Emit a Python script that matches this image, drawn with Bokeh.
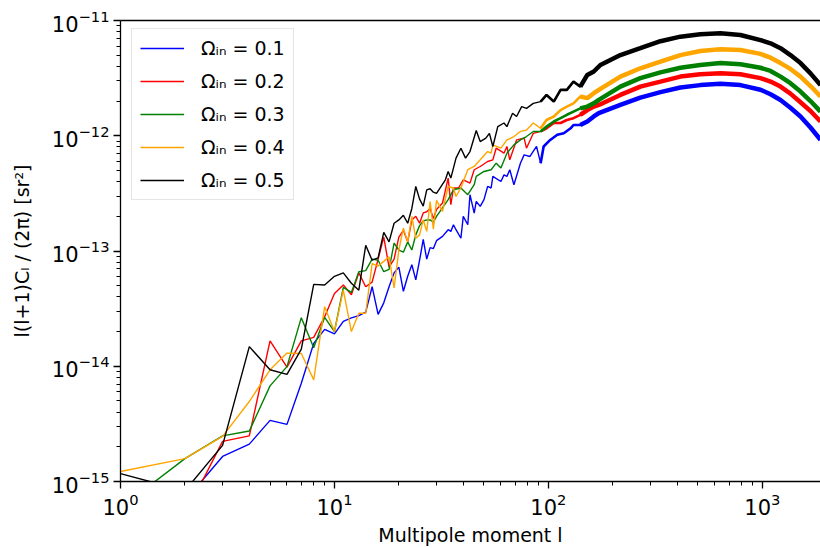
from bokeh.plotting import figure
from bokeh.models import LogAxis, FixedTicker, Legend, LegendItem, Range1d
from bokeh.embed import file_html
from bokeh.resources import INLINE

# ---------------- data ----------------
ell_low = [1, 2, 3, 4, 5, 6, 7, 8, 9, 10, 11, 12, 13, 14, 15, 16, 17, 18, 19, 20,
           21, 22, 23, 24, 25, 26, 27, 28, 29, 30]
ell_high = [217, 269, 334, 414, 513, 637, 790, 980, 1092, 1216, 1353, 1508, 1679, 1870]

# Omega_in = 0.1 (blue)
cl_01_low = [4.0e-16, 6.8e-16, 1.65e-15, 2.11e-15, 3.39e-15, 3.13e-15, 7.13e-15, 1.58e-14, 2.09e-14, 1.91e-14,
             2.45e-14, 2.63e-14, 2.75e-14, 2.95e-14, 4.90e-14, 2.82e-14, 3.55e-14, 4.90e-14, 6.46e-14, 7.24e-14,
             4.47e-14, 6.03e-14, 7.59e-14, 5.62e-14, 8.32e-14, 1.26e-13, 8.51e-14, 1.07e-13, 1.05e-13, 1.23e-13]
ell_01_mid = [32, 34, 35, 36, 37, 39, 40, 42, 43, 45, 46, 48, 50, 52, 54, 55, 60, 62, 64, 66,
              69, 74, 77, 82, 88, 92, 95, 102, 110, 118, 127, 131, 141, 152, 163, 172]
cl_01_mid = [1.34e-13, 1.53e-13, 1.48e-13, 1.69e-13, 1.53e-13, 1.29e-13, 2.00e-13, 1.69e-13, 3.08e-13, 2.13e-13,
             2.69e-13, 2.44e-13, 2.79e-13, 3.63e-13, 3.52e-13, 4.44e-13, 4.01e-13, 4.58e-13, 4.44e-13, 5.07e-13,
             3.76e-13, 5.78e-13, 6.82e-13, 6.61e-13, 8.07e-13, 5.78e-13, 8.07e-13, 9.20e-13, 1.02e-12, 1.05e-12,
             1.16e-12, 1.24e-12, 1.24e-12, 1.33e-12, 1.47e-12, 1.57e-12]
cl_01_high = [1.85e-12, 2.14e-12, 2.39e-12, 2.62e-12, 2.75e-12, 2.82e-12, 2.75e-12, 2.51e-12, 2.29e-12, 2.04e-12,
              1.75e-12, 1.47e-12, 1.18e-12, 9.23e-13]

# Omega_in = 0.2 (red)
cl_02_low = [7.0e-16, 5.1e-16, 2.23e-15, 2.49e-15, 1.66e-14, 9.82e-15, 1.66e-14, 1.78e-14, 2.69e-14, 4.27e-14,
             5.07e-14, 4.17e-14, 6.46e-14, 4.90e-14, 5.37e-14, 8.51e-14, 1.32e-13, 7.24e-14, 8.51e-14, 1.32e-13,
             1.51e-13, 1.20e-13, 1.86e-13, 2.00e-13, 1.74e-13, 2.14e-13, 2.19e-13, 2.34e-13, 1.91e-13, 2.29e-13]
ell_02_mid = [32, 34, 35, 36, 38, 40, 43, 45, 48, 52, 55, 57, 62, 64, 66, 71, 77, 79, 85, 92,
              98, 106, 114, 122, 131, 141, 152, 163, 172]
cl_02_mid = [2.61e-13, 4.29e-13, 2.52e-13, 3.52e-13, 3.52e-13, 4.15e-13, 3.88e-13, 5.07e-13, 5.41e-13, 5.98e-13,
             6.18e-13, 7.80e-13, 7.06e-13, 8.07e-13, 6.18e-13, 9.20e-13, 9.53e-13, 7.80e-13, 1.05e-12, 1.09e-12,
             1.16e-12, 1.29e-12, 1.29e-12, 1.37e-12, 1.42e-12, 1.52e-12, 1.67e-12, 1.79e-12, 1.85e-12]
cl_02_high = [2.26e-12, 2.67e-12, 2.95e-12, 3.26e-12, 3.42e-12, 3.49e-12, 3.42e-12, 3.16e-12, 2.95e-12, 2.67e-12,
              2.32e-12, 1.95e-12, 1.64e-12, 1.33e-12]

# Omega_in = 0.3 (green)
cl_03_low = [5.9e-16, 1.58e-15, 2.49e-15, 2.74e-15, 6.76e-15, 9.93e-15, 2.64e-14, 1.45e-14, 2.66e-14, 2.00e-14,
             4.84e-14, 4.37e-14, 6.61e-14, 6.76e-14, 8.51e-14, 8.32e-14, 6.61e-14, 6.92e-14, 1.17e-13, 1.02e-13,
             9.77e-14, 1.20e-13, 1.02e-13, 1.38e-13, 1.66e-13, 1.82e-13, 1.86e-13, 1.86e-13, 1.78e-13, 2.00e-13]
ell_03_mid = [34, 36, 39, 42, 45, 46, 50, 54, 57, 60, 64, 69, 74, 79, 85, 92, 98, 106, 114, 122,
              131, 141, 152, 163, 172]
cl_03_mid = [2.79e-13, 3.40e-13, 3.52e-13, 3.08e-13, 3.76e-13, 4.44e-13, 4.90e-13, 5.07e-13, 5.78e-13, 5.24e-13,
             7.06e-13, 8.34e-13, 9.20e-13, 9.84e-13, 1.09e-12, 1.09e-12, 1.20e-12, 1.33e-12, 1.42e-12, 1.52e-12,
             1.62e-12, 1.73e-12, 1.79e-12, 1.91e-12, 2.05e-12]
cl_03_high = [2.67e-12, 3.16e-12, 3.55e-12, 3.89e-12, 4.11e-12, 4.27e-12, 4.17e-12, 3.89e-12, 3.65e-12, 3.26e-12,
              2.86e-12, 2.42e-12, 2.00e-12, 1.62e-12]

# Omega_in = 0.4 (orange)
cl_04_low = [1.22e-15, 1.58e-15, 2.46e-15, 4.94e-15, 9.31e-15, 1.30e-14, 1.29e-14, 7.62e-15, 3.29e-14, 2.00e-14,
             4.57e-14, 2.00e-14, 2.88e-14, 2.88e-14, 7.76e-14, 7.41e-14, 8.13e-14, 8.91e-14, 4.79e-14, 1.02e-13,
             1.58e-13, 1.20e-13, 2.00e-13, 1.29e-13, 1.38e-13, 1.86e-13, 1.48e-13, 2.69e-13, 1.55e-13, 2.75e-13]
ell_04_mid = [32, 34, 36, 37, 39, 42, 45, 48, 52, 54, 55, 60, 64, 69, 74, 79, 85, 92, 98, 106,
              114, 122, 131, 141, 152, 163, 172]
cl_04_mid = [2.21e-13, 3.63e-13, 3.52e-13, 2.97e-13, 3.52e-13, 5.07e-13, 5.41e-13, 6.18e-13, 7.29e-13, 7.06e-13,
             8.34e-13, 7.80e-13, 9.20e-13, 9.84e-13, 1.09e-12, 1.12e-12, 1.29e-12, 1.16e-12, 1.37e-12, 1.47e-12,
             1.67e-12, 1.79e-12, 1.91e-12, 2.19e-12, 2.12e-12, 2.34e-12, 2.50e-12]
cl_04_high = [3.26e-12, 3.85e-12, 4.40e-12, 5.01e-12, 5.44e-12, 5.62e-12, 5.55e-12, 5.13e-12, 4.76e-12, 4.27e-12,
              3.80e-12, 3.26e-12, 2.70e-12, 2.19e-12]

# Omega_in = 0.5 (black)
cl_05_low = [1.17e-15, 8.3e-16, 2.06e-15, 1.48e-14, 9.33e-15, 8.51e-15, 1.41e-14, 5.13e-14, 5.07e-14, 6.03e-14,
             6.46e-14, 5.25e-14, 4.57e-14, 1.12e-13, 8.32e-14, 8.71e-14, 1.45e-13, 1.20e-13, 1.74e-13, 1.86e-13,
             2.04e-13, 1.74e-13, 2.34e-13, 3.63e-13, 2.82e-13, 2.45e-13, 3.39e-13, 3.47e-13, 3.24e-13, 3.16e-13]
ell_05_mid = [33, 34, 35, 37, 39, 41, 43, 46, 48, 51, 53, 55, 58, 62, 64, 68, 71, 75, 79, 85,
              92, 98, 106, 114, 122, 131, 141, 152, 163, 175]
cl_05_mid = [4.15e-13, 4.90e-13, 4.29e-13, 6.40e-13, 7.80e-13, 6.40e-13, 7.29e-13, 1.11e-12, 8.91e-13, 9.53e-13,
             1.05e-12, 8.07e-13, 1.20e-12, 1.29e-12, 1.20e-12, 1.57e-12, 1.47e-12, 1.79e-12, 1.73e-12, 1.91e-12,
             1.98e-12, 2.26e-12, 1.98e-12, 2.50e-12, 2.50e-12, 2.95e-12, 2.67e-12, 3.37e-12, 3.61e-12, 4.11e-12]
cl_05_high = [5.01e-12, 5.75e-12, 6.61e-12, 7.24e-12, 7.59e-12, 7.76e-12, 7.48e-12, 6.76e-12, 6.34e-12, 5.75e-12,
              5.01e-12, 4.27e-12, 3.48e-12, 2.75e-12]

labels = ["Ωᵢₙ = 0.1", "Ωᵢₙ = 0.2", "Ωᵢₙ = 0.3", "Ωᵢₙ = 0.4", "Ωᵢₙ = 0.5"]
colors = ["#0000ff", "#ff0000", "#008000", "#ffa500", "#000000"]

x_major = [1, 10, 100, 1000]
y_major = [1e-15, 1e-14, 1e-13, 1e-12, 1e-11]

series = [
    (ell_01_mid, cl_01_low, cl_01_mid, cl_01_high),
    (ell_02_mid, cl_02_low, cl_02_mid, cl_02_high),
    (ell_03_mid, cl_03_low, cl_03_mid, cl_03_high),
    (ell_04_mid, cl_04_low, cl_04_mid, cl_04_high),
    (ell_05_mid, cl_05_low, cl_05_mid, cl_05_high),
]

FONT = "DejaVu Sans"

p = figure(width=820, height=548, x_axis_type="log", y_axis_type="log",
           x_range=Range1d(1, 1870), y_range=Range1d(1e-15, 1e-11),
           output_backend="svg", toolbar_location=None,
           min_border_left=120, min_border_right=0, min_border_top=20, min_border_bottom=66)
p.outline_line_color = None
p.grid.visible = False
p.background_fill_color = "white"
p.border_fill_color = "white"

x_minor = [m * d for d in x_major for m in range(2, 10)]
y_minor = [m * d for d in y_major for m in range(2, 10)]
p.xaxis[0].ticker = FixedTicker(ticks=x_major, minor_ticks=x_minor)
p.yaxis[0].ticker = FixedTicker(ticks=y_major, minor_ticks=y_minor)
p.xaxis.axis_label = "Multipole moment l"
p.yaxis.axis_label = "l(l+1)Cₗ / (2π) [sr²]"

for ax in (p.xaxis[0], p.yaxis[0]):
    ax.axis_line_width = 1.3
    ax.major_tick_line_width = 1.3
    ax.minor_tick_line_width = 1.0
    ax.major_tick_out = 7
    ax.major_tick_in = 0
    ax.minor_tick_out = 4
    ax.minor_tick_in = 0
    ax.major_label_text_font = FONT
    ax.major_label_text_font_size = "21px"
    ax.major_label_text_color = "black"
    ax.axis_label_text_font = FONT
    ax.axis_label_text_font_size = "19px"
    ax.axis_label_text_font_style = "normal"
    ax.axis_label_text_color = "black"
    ax.major_label_standoff = 4
p.xaxis[0].axis_label_standoff = 6
p.yaxis[0].axis_label_standoff = 16

top = LogAxis(ticker=FixedTicker(ticks=[]), major_label_text_font_size="0px",
              major_tick_line_color=None, minor_tick_line_color=None, axis_line_width=1.3)
p.add_layout(top, "above")

items = []
for (ell_mid, lo, mid, hi), lab, col in zip(series, labels, colors):
    ell = ell_low + ell_mid + ell_high
    cl = lo + mid + hi
    r = p.line(ell, cl, line_color=col, line_width=1.4)
    # noisy parts of the spectra appear as a thicker band
    sel_m = [i for i, l in enumerate(ell) if 92 <= l <= 175]
    p.line([ell[i] for i in sel_m], [cl[i] for i in sel_m], line_color=col, line_width=2.6)
    sel_h = [i for i, l in enumerate(ell) if l >= 141]
    p.line([ell[i] for i in sel_h], [cl[i] for i in sel_h], line_color=col, line_width=4.5)
    items.append(LegendItem(label=lab, renderers=[r]))

legend = Legend(items=items, location=(11, 281), margin=0, padding=8, spacing=11,
                glyph_width=44, glyph_height=20, label_height=20, label_standoff=17,
                label_text_font=FONT, label_text_font_size="19px", label_text_color="black",
                border_line_color="#cccccc", border_line_width=1,
                background_fill_color="white", background_fill_alpha=0.8)
p.add_layout(legend)

open("out.html", "w").write(file_html(p, INLINE))
